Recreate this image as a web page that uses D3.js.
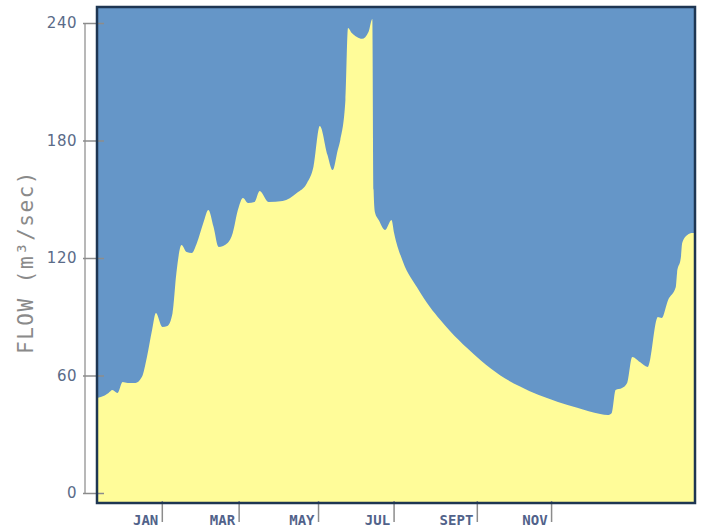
<!DOCTYPE html>
<html>
<head>
<meta charset="utf-8">
<script src="https://cdn.jsdelivr.net/npm/d3@7"></script>
<style>
  html, body { margin: 0; padding: 0; background: #fff; }
  #chart { width: 704px; height: 529px; }
</style>
</head>
<body>
<div id="chart"></div>
<script>
// day of record (from start of the plotted period) and daily flow
const days = [0, 3, 9, 12, 16, 20, 24, 30, 35, 39, 43, 46, 51, 55, 59, 62, 66, 70, 74, 78,
  83, 87, 91, 95, 102, 106, 110, 114, 118, 123, 127, 134, 145, 156, 164, 169, 174, 180, 184, 188,
  190, 194, 196, 199, 203, 207, 212, 215, 216, 217, 220, 225, 230, 232, 239, 250, 260, 268, 276, 289,
  300, 315, 330, 345, 360, 375, 393, 399, 402, 405, 410, 414, 418, 424, 430, 438, 441, 446, 452, 453,
  456, 457, 461, 465, 467];
const flow = [48.5, 49, 51.1, 52.6, 51.1, 56.7, 56.2, 56.2, 59.2, 69.5, 83.2, 91.9, 84.8, 85.3, 91.9, 112.4, 126.7, 123.1, 122.6, 127.7,
  137.9, 144.5, 135.9, 125.6, 127.7, 132.8, 144.5, 150.7, 148.1, 148.6, 154.2, 148.6, 149.1, 153.2, 158.3, 166.5, 187.4, 172.6, 164.9, 175.2,
  180.3, 200.7, 237.5, 234.9, 232.9, 231.9, 235.4, 242.1, 154.7, 143.5, 139.4, 134.3, 139.4, 132.8, 118.0, 105.0, 95.0, 88.5, 82.5, 74.0,
  67.5, 60.0, 54.5, 50.0, 46.5, 43.5, 40.3, 39.8, 40.9, 52.6, 53.6, 56.2, 69.5, 66.9, 64.4, 89.9, 89.4, 98.6, 105.2, 112.4,
  120.5, 127.7, 131.8, 132.8, 132.8];

const monthTickDays = [51, 111, 173, 232, 297, 355];
const monthLabels = ['JAN', 'MAR', 'MAY', 'JUL', 'SEPT', 'NOV'];
const flowTicks = [0, 60, 120, 180, 240];

const data = days.map((d, i) => ({ day: d, flow: flow[i] }));

const plot = { left: 97, top: 7, right: 695, bottom: 503 };

const svg = d3.select('#chart').append('svg')
  .attr('width', 704)
  .attr('height', 529);

const x = d3.scaleLinear()
  .domain([0, 467])
  .range([plot.left, plot.right]);

const y = d3.scaleLinear()
  .domain([0, 240])
  .range([493, 23]);

// blue background of the plot
svg.append('rect')
  .attr('x', plot.left)
  .attr('y', plot.top)
  .attr('width', plot.right - plot.left)
  .attr('height', plot.bottom - plot.top)
  .attr('fill', '#6596c8');

const area = d3.area()
  .x(d => x(d.day))
  .y0(plot.bottom)
  .y1(d => y(d.flow))
  .curve(d3.curveMonotoneX);

svg.append('path')
  .datum(data)
  .attr('d', area)
  .attr('fill', '#fffc99');

// y axis: grey spine, ticks poke into the plot
const yAxis = d3.axisLeft(y)
  .tickValues(flowTicks)
  .tickSize(0)
  .tickPadding(8);

const yg = svg.append('g')
  .attr('transform', 'translate(85,0)')
  .call(yAxis);

yg.select('.domain')
  .attr('d', `M0,${y(240)}V${y(0)}`)
  .attr('stroke', '#a0a0a0')
  .attr('stroke-width', 1.5);

yg.selectAll('.tick line')
  .attr('x1', -2)
  .attr('x2', 19)
  .attr('stroke', '#8c8c8c')
  .attr('stroke-width', 1.5);

yg.selectAll('.tick text')
  .attr('fill', '#5a6b88')
  .attr('font-family', 'DejaVu Sans, sans-serif')
  .attr('font-size', 15)
  .attr('letter-spacing', 0.5);

// x axis: month ticks hang below the frame, labels sit left of each tick
const xg = svg.append('g')
  .attr('transform', `translate(0,${plot.bottom})`);

xg.selectAll('line')
  .data(monthTickDays)
  .enter().append('line')
  .attr('x1', d => x(d))
  .attr('x2', d => x(d))
  .attr('y1', -2)
  .attr('y2', 19)
  .attr('stroke', '#8c8c8c')
  .attr('stroke-width', 1.5);

xg.selectAll('text')
  .data(monthTickDays)
  .enter().append('text')
  .attr('x', d => x(d) - 4)
  .attr('y', 22)
  .attr('text-anchor', 'end')
  .attr('fill', '#51628a')
  .attr('font-family', 'DejaVu Sans Mono, monospace')
  .attr('font-size', 14)
  .attr('font-weight', 'bold')
  .text((d, i) => monthLabels[i]);

// frame
svg.append('rect')
  .attr('x', plot.left)
  .attr('y', plot.top)
  .attr('width', plot.right - plot.left)
  .attr('height', plot.bottom - plot.top)
  .attr('fill', 'none')
  .attr('stroke', '#1e3652')
  .attr('stroke-width', 2.5);

svg.append('text')
  .attr('transform', 'translate(33,262) rotate(-90)')
  .attr('text-anchor', 'middle')
  .attr('fill', '#8a8a8a')
  .attr('font-family', 'DejaVu Sans Mono, monospace')
  .attr('font-size', 21)
  .attr('letter-spacing', 1.5)
  .text('FLOW (m³/sec)');
</script>
</body>
</html>
